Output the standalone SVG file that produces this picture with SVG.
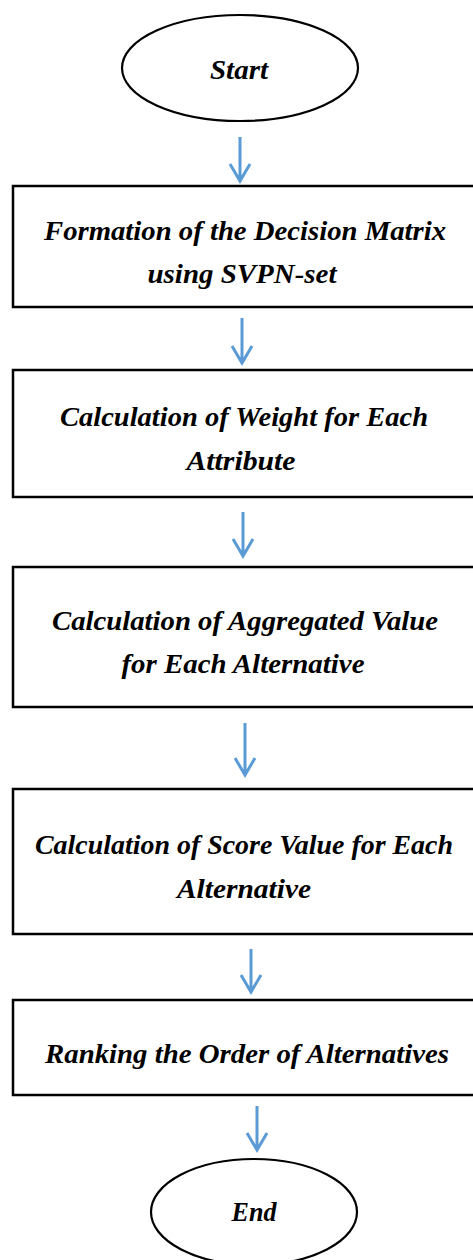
<svg xmlns="http://www.w3.org/2000/svg" width="473" height="1260" viewBox="0 0 473 1260">
  <defs>
    <style>
      .term { fill: #ffffff; stroke: #000000; stroke-width: 2.2; }
      .step { fill: #ffffff; stroke: #000000; stroke-width: 2.5; }
      .label { font-family: "Liberation Serif", "Times New Roman", serif; font-style: italic; font-weight: bold; font-size: 27px; fill: #000000; text-anchor: middle; }
      .flow { fill: none; stroke: #5b9bd5; stroke-width: 3; stroke-linecap: butt; stroke-linejoin: miter; }
    </style>
  </defs>

  <rect width="473" height="1260" fill="#ffffff"/>

  <!-- Start terminal -->
  <g id="start">
    <ellipse class="term" cx="240" cy="68" rx="118" ry="53"/>
    <text class="label" x="239" y="79" textLength="58" lengthAdjust="spacingAndGlyphs">Start</text>
  </g>

  <!-- Process steps -->
  <g id="decision-matrix">
    <rect class="step" x="13" y="186" width="470" height="121"/>
    <text class="label" x="245" y="240" textLength="402" lengthAdjust="spacingAndGlyphs">Formation of the Decision Matrix</text>
    <text class="label" x="242" y="283" textLength="189" lengthAdjust="spacingAndGlyphs">using SVPN-set</text>
  </g>

  <g id="attribute-weights">
    <rect class="step" x="13" y="370" width="470" height="127"/>
    <text class="label" x="244" y="426" textLength="368" lengthAdjust="spacingAndGlyphs">Calculation of Weight for Each</text>
    <text class="label" x="241" y="470" textLength="109" lengthAdjust="spacingAndGlyphs">Attribute</text>
  </g>

  <g id="aggregated-values">
    <rect class="step" x="13" y="567" width="470" height="140"/>
    <text class="label" x="245" y="630" textLength="386" lengthAdjust="spacingAndGlyphs">Calculation of Aggregated Value</text>
    <text class="label" x="243" y="673" textLength="243" lengthAdjust="spacingAndGlyphs">for Each Alternative</text>
  </g>

  <g id="score-values">
    <rect class="step" x="13" y="789" width="470" height="145"/>
    <text class="label" x="244" y="854" textLength="418" lengthAdjust="spacingAndGlyphs">Calculation of Score Value for Each</text>
    <text class="label" x="244" y="898" textLength="134" lengthAdjust="spacingAndGlyphs">Alternative</text>
  </g>

  <g id="ranking">
    <rect class="step" x="13" y="1000" width="470" height="95"/>
    <text class="label" x="247" y="1063" textLength="404" lengthAdjust="spacingAndGlyphs">Ranking the Order of Alternatives</text>
  </g>

  <!-- End terminal -->
  <g id="end">
    <ellipse class="term" cx="254" cy="1212" rx="103" ry="53"/>
    <text class="label" x="254" y="1221" textLength="45" lengthAdjust="spacingAndGlyphs">End</text>
  </g>

  <!-- Flow arrows -->
  <g id="connectors">
    <path class="flow" d="M240 137 V181 M230 164 L240 181 L250 164"/>
    <path class="flow" d="M242 318 V363 M232 346 L242 363 L252 346"/>
    <path class="flow" d="M243 512 V556 M233 539 L243 556 L253 539"/>
    <path class="flow" d="M245 723 V775 M235 758 L245 775 L255 758"/>
    <path class="flow" d="M251 949 V992 M241 975 L251 992 L261 975"/>
    <path class="flow" d="M257 1106 V1150 M247 1133 L257 1150 L267 1133"/>
  </g>
</svg>
